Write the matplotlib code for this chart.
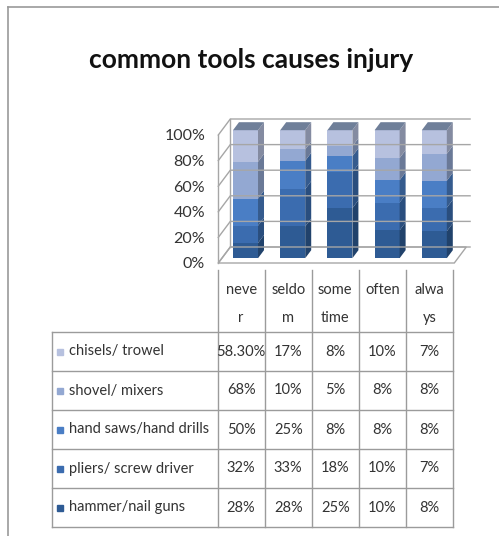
import matplotlib.pyplot as plt
from matplotlib.patches import Polygon
import numpy as np

# data (series listed as in the table, top to bottom)
categories = ['never', 'seldom', 'sometime', 'often', 'always']
header_labels = ['neve\nr', 'seldo\nm', 'some\ntime', 'often', 'alwa\nys']
series_names = ['chisels/ trowel', 'shovel/ mixers', 'hand saws/hand drills',
                'pliers/ screw driver', 'hammer/nail guns']
chisels = [58.3, 17, 8, 10, 7]
shovel = [68, 10, 5, 8, 8]
hand_saws = [50, 25, 8, 8, 8]
pliers = [32, 33, 18, 10, 7]
hammer = [28, 28, 25, 10, 8]
cell_text = [['58.30%', '17%', '8%', '10%', '7%'],
             ['68%', '10%', '5%', '8%', '8%'],
             ['50%', '25%', '8%', '8%', '8%'],
             ['32%', '33%', '18%', '10%', '7%'],
             ['28%', '28%', '25%', '10%', '8%']]
colors = ['#B7C1DF', '#93A8D2', '#4A7EC5', '#3B6CAF', '#2E5B94']
yticks = [0, 20, 40, 60, 80, 100]

plt.rcParams['font.family'] = ['Lato', 'DejaVu Sans']

W, H = 499, 536
fig = plt.figure(figsize=(W / 100, H / 100), dpi=100)

# frame lines of the screenshot
fig.add_artist(plt.Line2D([8 / W, 8 / W], [0, 1 - 7 / H], color='#9a9a9a', lw=1.2))
fig.add_artist(plt.Line2D([8 / W, 1], [1 - 7 / H, 1 - 7 / H], color='#9a9a9a', lw=1.2))

fig.text(251 / W, 1 - 60 / H, 'common tools causes injury', ha='center', va='center',
         fontsize=19, fontweight='bold', color='#111111')

# ---- 3d stacked chart ----
cx0, dx = 241.9, 47.2      # px of category 0, px per category
y0, sy = 263.0, 1.28       # px of 0%, px per percent
xmin, xmax, ymin, ymax = -0.6, 5.0, -3, 116
ax = fig.add_axes([(cx0 + xmin * dx) / W, 1 - (y0 - ymin * sy) / H,
                   (xmax - xmin) * dx / W, (ymax - ymin) * sy / H])
ax.set_xlim(xmin, xmax)
ax.set_ylim(ymin, ymax)
for s in ax.spines.values():
    s.set_visible(False)
ax.set_xticks([])
ax.set_yticks(yticks)
ax.set_yticklabels(['%d%%' % v for v in yticks], fontsize=11.5, color='#333333')
ax.tick_params(axis='y', length=0, pad=6)

ddx, ddy = 12 / dx, 16 / sy    # depth vector in data units
gc = '#a6a6a6'
n = len(categories)
# back wall and left wall gridlines
for v in yticks:
    ax.plot([-0.5, -0.5 + ddx, n - 0.5 + ddx + 0.08], [v, v + ddy, v + ddy], color=gc, lw=1)
ax.plot([-0.5, -0.5], [0, 100], color=gc, lw=1)
ax.plot([-0.5 + ddx, -0.5 + ddx], [ddy, 100 + ddy], color=gc, lw=1)
# floor
ax.add_patch(Polygon([[-0.5, 0], [n - 0.5, 0], [n - 0.5 + ddx, ddy], [-0.5 + ddx, ddy]],
                     closed=True, facecolor='white', edgecolor=gc, lw=1))

stack = [hammer, pliers, hand_saws, shovel, chisels]
stack_colors = colors[::-1]
data = np.array(stack, dtype=float)
pct = data / data.sum(axis=0) * 100
f0, f1 = 0.3, 0.8
bw = 0.53


def shade(c, k):
    r, g, b = plt.matplotlib.colors.to_rgb(c)
    return (r * k, g * k, b * k)


for i in range(n):
    bottom = 0
    xl = i - bw / 2 + f0 * ddx
    xr = i + bw / 2 + f0 * ddx
    ox, oy = (f1 - f0) * ddx, (f1 - f0) * ddy
    base = f0 * ddy
    for j in range(len(stack)):
        h = pct[j, i]
        yb, yt = base + bottom, base + bottom + h
        ax.add_patch(Polygon([[xl, yb], [xr, yb], [xr, yt], [xl, yt]], closed=True,
                             facecolor=stack_colors[j], edgecolor='none'))
        ax.add_patch(Polygon([[xr, yb], [xr + ox, yb + oy], [xr + ox, yt + oy], [xr, yt]],
                             closed=True, facecolor=shade(stack_colors[j], 0.72), edgecolor='none'))
        bottom += h
    ax.add_patch(Polygon([[xl, base + 100], [xr, base + 100], [xr + ox, base + 100 + oy],
                          [xl + ox, base + 100 + oy]], closed=True,
                         facecolor='#6f7f99', edgecolor='none'))

# ---- data table ----
tl, tr = 52, 453
tt, tb = 270, 527
lab_w = (218 - tl) / dx
row_h = 39
head_h = (332 - tt) / row_h
tax = fig.add_axes([tl / W, 1 - tb / H, (tr - tl) / W, (tb - tt) / H])
tax.set_xlim(-lab_w, n)
tax.set_ylim(len(series_names), -head_h)
tax.axis('off')
lc = '#9b9b9b'
for r in range(len(series_names) + 1):
    tax.plot([-lab_w, n], [r, r], color=lc, lw=1, clip_on=False)
tax.plot([-lab_w, -lab_w], [0, len(series_names)], color=lc, lw=1, clip_on=False)
for c in range(n + 1):
    tax.plot([c, c], [-head_h, len(series_names)], color=lc, lw=1, clip_on=False)

for c, lab in enumerate(header_labels):
    lines = lab.split('\n')
    for k, t in enumerate(lines):
        tax.text(c + 0.5, -head_h + 0.5 + k * 0.72, t, ha='center', va='center',
                 fontsize=10.5, color='#333333')

for r, name in enumerate(series_names):
    tax.plot([-lab_w + 8.5 / dx], [r + 0.5], marker='s', ms=5, color=colors[r],
             linestyle='none')
    tax.text(-lab_w + 17 / dx, r + 0.5, name, ha='left', va='center', fontsize=10.5,
             color='#333333')
    for c in range(n):
        tax.text(c + 0.5, r + 0.5, cell_text[r][c], ha='center', va='center',
                 fontsize=10.5, color='#333333')

fig.savefig('out.png', dpi=100)
